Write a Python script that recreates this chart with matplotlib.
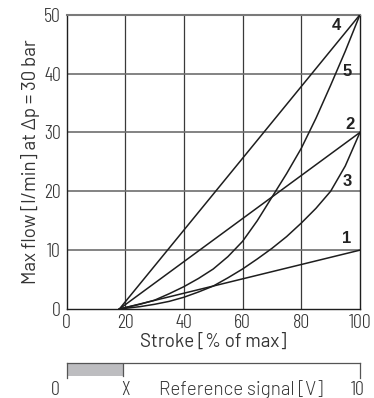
import matplotlib
matplotlib.use("Agg")
import matplotlib.pyplot as plt

plt.rcParams['font.family'] = ['Barlow', 'Roboto', 'DejaVu Sans']
plt.rcParams['font.weight'] = 300

# 曲线数据（行程 %，流量 l/min）
x_lin = [18, 100]
y1 = [0, 10]
y2 = [0, 30]
y4 = [0, 50]
x5 = [18, 25, 30, 35, 40, 45, 50, 55, 60, 65, 70, 75, 80, 85, 90, 95, 100]
y5 = [0, 0.8, 1.5, 2.6, 3.8, 5.2, 6.8, 8.9, 11.5, 15, 19, 23, 27.3, 32.4, 38, 43.8, 50]
x3 = [18, 25, 30, 35, 40, 45, 50, 55, 60, 65, 70, 75, 80, 85, 90, 95, 100]
y3 = [0, 0.4, 0.8, 1.3, 2, 2.9, 3.9, 5.3, 6.8, 8.5, 10.3, 12.3, 14.6, 17.1, 20, 24.3, 30]

labels = ["1", "2", "3", "4", "5"]
label_pos = [(95.5, 12.0), (96.6, 31.3), (95.8, 21.7), (91.8, 48.2), (95.8, 40.4)]

ref_x = 1.93  # X 的位置（0-10 V）

txt_c = '#333333'
num_font = ['Barlow Condensed', 'Roboto', 'DejaVu Sans']
fs_num = 14.5
fs_lab = 13.5

fig = plt.figure(figsize=(3.74, 3.98), dpi=100)
ax = fig.add_axes([0.178, 0.2236, 0.7844, 0.7394])

# 网格线
for gx in [20, 40, 60, 80]:
    ax.axvline(gx, color='#3a3a3a', lw=0.9, zorder=1)
for gy in [10, 20, 30, 40]:
    ax.axhline(gy, color='#6e6e6e', lw=1.2, zorder=1)

lc = '#1e1e1e'
ax.plot(x_lin, y1, color=lc, lw=1.1, zorder=3)
ax.plot(x_lin, y2, color=lc, lw=1.1, zorder=3)
ax.plot(x_lin, y4, color=lc, lw=1.1, zorder=3)
ax.plot(x5, y5, color=lc, lw=1.1, zorder=3)
ax.plot(x3, y3, color=lc, lw=1.1, zorder=3)

for lab, (lx, ly) in zip(labels, label_pos):
    ax.text(lx, ly, lab, fontsize=12, fontweight='bold', family='Liberation Sans',
            ha='center', va='center', color='#222222', zorder=4)

ax.set_xlim(0, 100)
ax.set_ylim(0, 50)
ax.set_xticks([0, 20, 40, 60, 80, 100])
ax.set_yticks([0, 10, 20, 30, 40, 50])
ax.tick_params(length=0, labelsize=fs_num, colors=txt_c)
ax.tick_params(axis='y', pad=4)
ax.tick_params(axis='x', pad=3.5)
for t in ax.get_xticklabels() + ax.get_yticklabels():
    t.set_family(num_font)
for s in ['left', 'bottom', 'right']:
    ax.spines[s].set_color('#1e1e1e')
    ax.spines[s].set_linewidth(1.0)
ax.spines['top'].set_color('#7a7a7a')
ax.spines['top'].set_linewidth(1.5)

ax.set_xlabel("Stroke [% of max]", fontsize=fs_lab, color=txt_c, labelpad=1)
ax.set_ylabel("Max flow [l/min] at Δp = 30 bar", fontsize=fs_lab, color=txt_c, labelpad=3)

# 参考信号条
bx = fig.add_axes([0.178, 0.0503, 0.7844, 0.0369])
bx.set_xlim(0, 10)
bx.set_ylim(0, 1)
bx.fill_between([0, ref_x], 0.15, 1, color='#bdbdc0', lw=0)
bx.plot([ref_x, ref_x], [0.15, 1], color='#555555', lw=0.9)
bx.set_xticks([])
bx.set_yticks([])
bx.spines['bottom'].set_visible(False)
for s in ['top', 'left', 'right']:
    bx.spines[s].set_color('#555555')
    bx.spines[s].set_linewidth(0.9)
bx.patch.set_alpha(0)

ty = 1 - 390 / 398
fig.text(55.7 / 374, ty, "0", fontsize=fs_num, family=num_font, ha='center', va='center', color=txt_c)
fig.text(125 / 374, ty, "X", fontsize=fs_num, family=num_font, ha='center', va='center', color=txt_c)
fig.text(241 / 374, ty, "Reference signal [V]", fontsize=fs_lab, ha='center', va='center', color=txt_c)
fig.text(358 / 374, ty, "10", fontsize=fs_num, family=num_font, ha='center', va='center', color=txt_c)

fig.savefig("out.png", dpi=100)
